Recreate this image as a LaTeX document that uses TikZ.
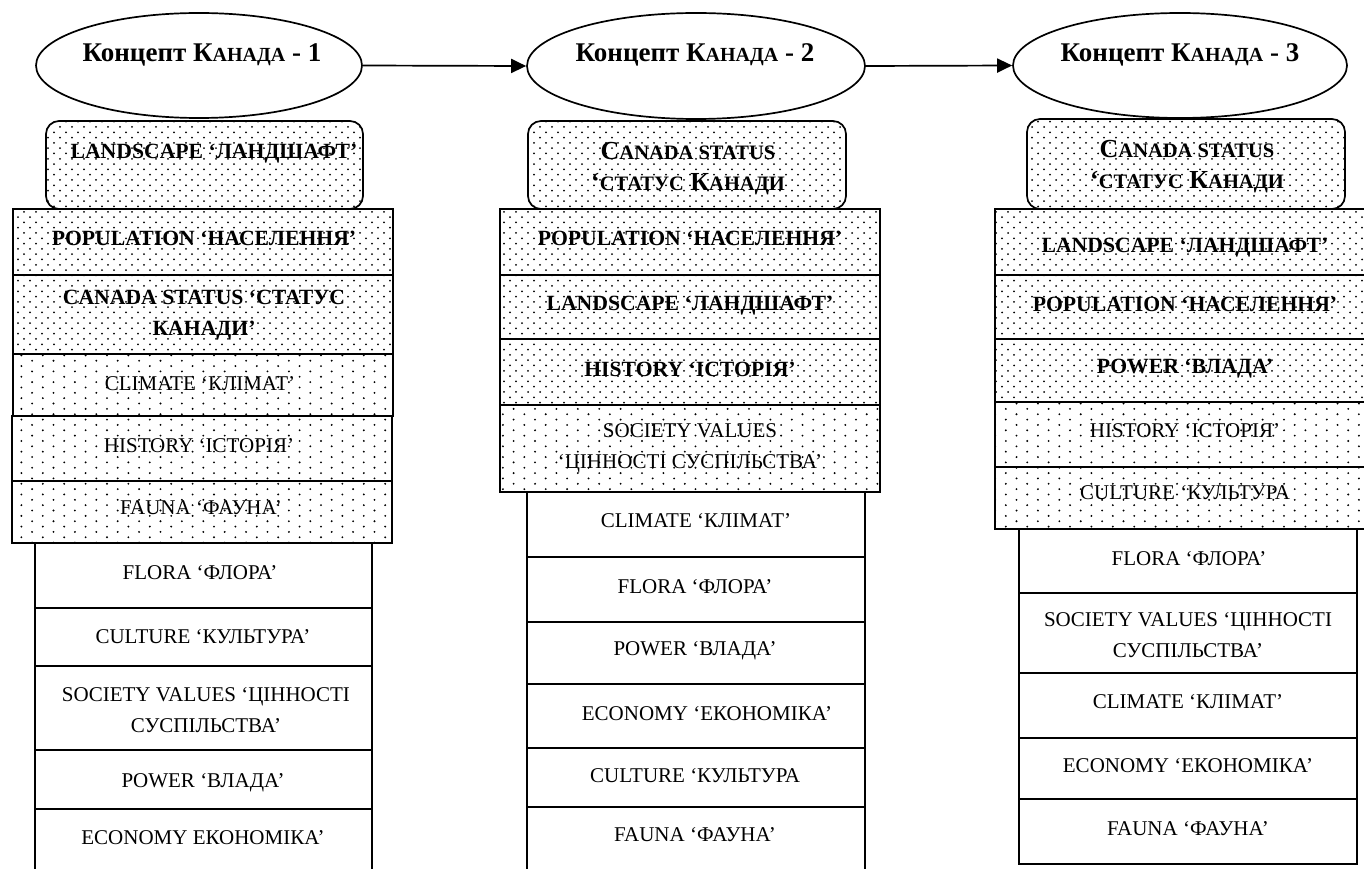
\documentclass[tikz,border=0pt]{standalone}
\usepackage{fontspec}
\setmainfont{Liberation Serif}
\usetikzlibrary{patterns,arrows.meta,shapes.geometric}
\pgfdeclarepatternformonly{densedots}{\pgfqpoint{-1.5pt}{-1.5pt}}{\pgfqpoint{13.5pt}{12.1pt}}{\pgfqpoint{12pt}{10.6pt}}{%
  \pgfpathcircle{\pgfqpoint{0pt}{0pt}}{1pt}%
  \pgfpathcircle{\pgfqpoint{6pt}{5.3pt}}{1pt}%
  \pgfusepath{fill}}
\pgfdeclarepatternformonly{sparsedots}{\pgfqpoint{-1.5pt}{-1.5pt}}{\pgfqpoint{22.9pt}{12.2pt}}{\pgfqpoint{21.4pt}{10.7pt}}{%
  \pgfpathcircle{\pgfqpoint{0pt}{0pt}}{1.05pt}%
  \pgfpathcircle{\pgfqpoint{10.7pt}{5.35pt}}{1.05pt}%
  \pgfusepath{fill}}
\newcommand\nfnt{\fontsize{21pt}{31pt}\selectfont}
\newcommand\bfnt{\fontsize{21.7pt}{31pt}\selectfont\bfseries}
\newcommand\rfnt{\fontsize{26pt}{31pt}\selectfont\bfseries}
\newcommand\tfnt{\fontsize{27pt}{31pt}\selectfont\bfseries}
\newcommand\smc[1]{{\fontsize{20.5pt}{31pt}\selectfont #1}}
\newcommand\smt[1]{{\fontsize{20pt}{31pt}\selectfont #1}}
\newcommand\bx[6]{\node[#2, minimum width={(#5-#3)*1pt}, minimum height={(#6-#4)*1pt}] (#1) at (#3,#4) {};}
\tikzset{
 bxw/.style={draw, line width=1.7pt, rectangle, inner sep=0pt, outer sep=0pt, anchor=north west},
 bxd/.style={bxw, pattern=densedots},
 bxs/.style={bxw, pattern=sparsedots},
 bxr/.style={bxd, rounded corners=13pt},
 ell/.style={draw, ellipse, line width=1.7pt, inner sep=0pt},
 tx/.style={anchor=base, align=center, inner sep=0pt, font=\nfnt},
 tb/.style={tx, font=\bfnt},
 tr/.style={tx, font=\rfnt},
 tt/.style={anchor=base, inner sep=0pt, font=\tfnt},
 arr/.style={line width=1.7pt, -{Triangle[length=15pt,width=14pt]}},
}
\begin{document}
\begin{tikzpicture}[x=1pt,y=-1pt]
\useasboundingbox (0,0) rectangle (1364,869);
% ellipses
\node[ell, minimum width=326pt, minimum height=105pt] (e1) at (199,65.5) {};
\node[ell, minimum width=338pt, minimum height=106pt] (e2) at (696,66) {};
\node[ell, minimum width=334pt, minimum height=105pt] (e3) at (1180,65.5) {};
\node[tt] (te1) at (202,62) {Концепт К\smt{АНАДА} - 1};
\node[tt] (te2) at (695,62) {Концепт К\smt{АНАДА} - 2};
\node[tt] (te3) at (1180,62) {Концепт К\smt{АНАДА} - 3};
\draw[arr] (e1.east) -- (e2.west);
\draw[arr] (e2.east) -- (e3.west);
% column 1
\bx{r1}{bxr}{46}{121}{363}{209}
\bx{a1}{bxd}{13}{209}{393}{275}
\bx{a2}{bxd}{13}{275}{393}{354}
\bx{a3}{bxs}{13}{354}{393}{416}
\bx{a4}{bxs}{12}{416}{392}{481}
\bx{a5}{bxs}{12}{481}{392}{543}
\bx{w1}{bxw}{35}{543}{372}{608}
\bx{w2}{bxw}{35}{608}{372}{666}
\bx{w3}{bxw}{35}{666}{372}{750}
\bx{w4}{bxw}{35}{750}{372}{809}
\bx{w5}{bxw}{35}{809}{372}{895}
\node[tb] (tr1) at (214,159) {LANDSCAPE ‘ЛАНДШАФТ’};
\node[tb] (ta1) at (204,245) {POPULATION ‘НАСЕЛЕННЯ’};
\node[tb] (ta2) at (204,335) {CANADA STATUS ‘СТАТУС\\КАНАДИ’};
\node[tx] (ta3) at (200,390) {CLIMATE ‘КЛІМАТ’};
\node[tx] (ta4) at (199,452) {HISTORY ‘ІСТОРІЯ’};
\node[tx] (ta5) at (201,514) {FAUNA ‘ФАУНА’};
\node[tx] (tw1) at (200,579) {FLORA ‘ФЛОРА’};
\node[tx] (tw2) at (203,643) {CULTURE ‘КУЛЬТУРА’};
\node[tx] (tw3) at (206,732) {SOCIETY VALUES ‘ЦІННОСТІ\\СУСПІЛЬСТВА’};
\node[tx] (tw4) at (203,787) {POWER ‘ВЛАДА’};
\node[tx] (tw5) at (203,844) {ECONOMY ЕКОНОМІКА’};
% column 2
\bx{r2}{bxr}{528}{121}{846}{209}
\bx{b1}{bxd}{500}{209}{880}{275}
\bx{b2}{bxd}{500}{275}{880}{339}
\bx{b3}{bxd}{500}{339}{880}{405}
\bx{b4}{bxs}{500}{405}{880}{492}
\bx{v1}{bxw}{527}{492}{865}{557}
\bx{v2}{bxw}{527}{557}{865}{622}
\bx{v3}{bxw}{527}{622}{865}{684}
\bx{v4}{bxw}{527}{684}{865}{748}
\bx{v5}{bxw}{527}{748}{865}{807}
\bx{v6}{bxw}{527}{807}{865}{895}
\node[tr] (tr2) at (688,190) {C\smc{ANADA STATUS}\\‘\smc{СТАТУС} К\smc{АНАДИ}};
\node[tb] (tb1) at (690,245) {POPULATION ‘НАСЕЛЕННЯ’};
\node[tb] (tb2) at (690,310) {LANDSCAPE ‘ЛАНДШАФТ’};
\node[tb] (tb3) at (690,376) {HISTORY ‘ІСТОРІЯ’};
\node[tx] (tb4) at (690,468) {SOCIETY VALUES\\‘ЦІННОСТІ СУСПІЛЬСТВА’};
\node[tx] (tv1) at (696,527) {CLIMATE ‘КЛІМАТ’};
\node[tx] (tv2) at (695,593) {FLORA ‘ФЛОРА’};
\node[tx] (tv3) at (695,655) {POWER ‘ВЛАДА’};
\node[tx] (tv4) at (707,720) {ECONOMY ‘ЕКОНОМІКА’};
\node[tx] (tv5) at (695,782) {CULTURE ‘КУЛЬТУРА};
\node[tx] (tv6) at (695,841) {FAUNA ‘ФАУНА’};
% column 3
\bx{r3}{bxr}{1027}{119}{1345}{209}
\bx{c1}{bxd}{995}{209}{1375}{275}
\bx{c2}{bxd}{995}{275}{1375}{339}
\bx{c3}{bxd}{995}{339}{1375}{402}
\bx{c4}{bxs}{995}{402}{1375}{467}
\bx{c5}{bxs}{995}{467}{1375}{529}
\bx{u1}{bxw}{1019}{529}{1357}{593}
\bx{u2}{bxw}{1019}{593}{1357}{673}
\bx{u3}{bxw}{1019}{673}{1357}{738}
\bx{u4}{bxw}{1019}{738}{1357}{799}
\bx{u5}{bxw}{1019}{799}{1357}{864}
\node[tr] (tr3) at (1187,189) {C\smc{ANADA STATUS}\\‘\smc{СТАТУС} К\smc{АНАДИ}};
\node[tb] (tc1) at (1185,252) {LANDSCAPE ‘ЛАНДШАФТ’};
\node[tb] (tc2) at (1185,311) {POPULATION ‘НАСЕЛЕННЯ’};
\node[tb] (tc3) at (1185,373) {POWER ‘ВЛАДА’};
\node[tx] (tc4) at (1185,437) {HISTORY ‘ІСТОРІЯ’};
\node[tx] (tc5) at (1185,499) {CULTURE ‘КУЛЬТУРА};
\node[tx] (tu1) at (1189,565) {FLORA ‘ФЛОРА’};
\node[tx] (tu2) at (1188,657) {SOCIETY VALUES ‘ЦІННОСТІ\\СУСПІЛЬСТВА’};
\node[tx] (tu3) at (1188,708) {CLIMATE ‘КЛІМАТ’};
\node[tx] (tu4) at (1188,772) {ECONOMY ‘ЕКОНОМІКА’};
\node[tx] (tu5) at (1188,835) {FAUNA ‘ФАУНА’};
\end{tikzpicture}
\end{document}
